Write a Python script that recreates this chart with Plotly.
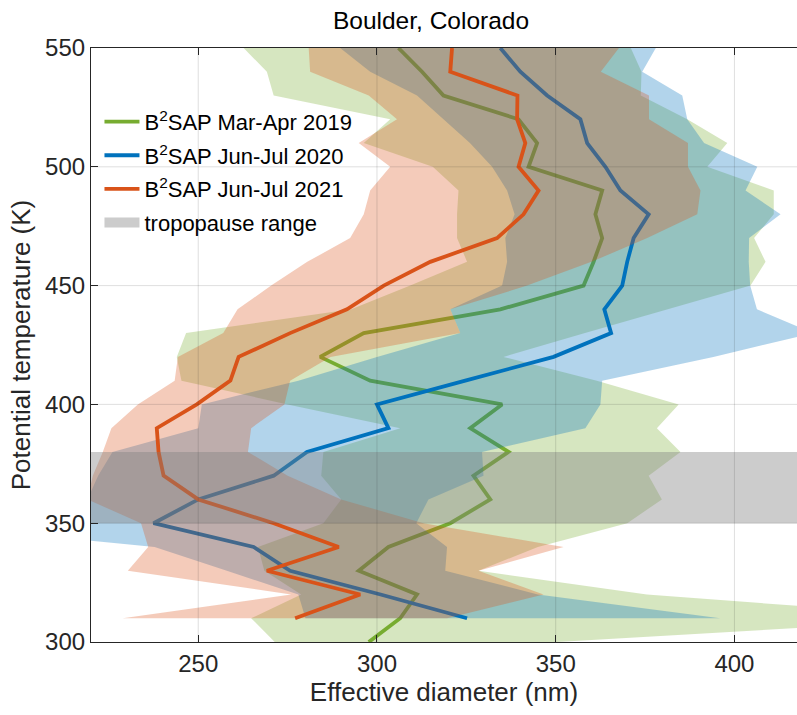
import plotly.graph_objects as go

# Potential temperature levels (K)
theta = [310, 320, 330, 340, 350, 360, 370, 380, 390, 400, 410, 420, 430,
         440, 450, 460, 470, 480, 490, 500, 510, 520, 530, 540, 550]
theta_2019 = [300] + theta

# Median effective diameter profiles (nm)
d_2019 = [297.7, 306.5, 311.2, 294.9, 303.2, 320.5, 331.7, 327.0, 336.8, 326.1,
          335.0, 298.1, 284.1, 296.3, 334.5, 357.8, 360.6, 363.0, 361.1, 363.0,
          342.4, 344.8, 339.6, 318.6, 312.6, 306.0]
d_2020 = [325.2, 301.0, 275.7, 265.5, 237.5, 250.0, 271.1, 280.4, 303.2, 300.0,
          324.7, 349.4, 365.5, 363.6, 368.6, 370.0, 371.8, 376.0, 368.1, 363.9,
          358.8, 356.9, 347.6, 340.1, 334.5]
d_2021 = [277.1, 295.3, 269.2, 289.3, 271.1, 250.0, 240.3, 238.9, 238.4, 249.6,
          259.0, 261.3, 275.7, 291.6, 301.9, 314.9, 333.6, 341.0, 345.2, 339.6,
          341.5, 339.2, 339.3, 320.5, 321.0]

# Variability envelopes (lower / upper, nm)
lo_2019 = [271.4, 264.8, 278.8, 268.5, 266.7, 285.0, 290.0, 284.4, 285.0, 306.5,
           275.0, 245.3, 244.0, 246.6, 292.8, 309.3, 325.2, 322.4, 322.4, 322.8,
           315.6, 296.3, 303.7, 271.1, 269.2, 262.7]
hi_2019 = [350.4, 464.0, 375.5, 328.4, 345.0, 370.0, 379.7, 376.0, 384.9, 378.3,
           384.4, 361.5, 335.4, 358.2, 381.0, 404.5, 408.7, 405.5, 411.0, 411.0,
           392.4, 398.0, 386.8, 373.8, 374.0, 371.0]
lo_2020 = [280.0, 278.0, 258.0, 237.8, 170.0, 219.0, 222.0, 226.0, 250.0, 251.0,
           278.0, 300.0, 323.3, 320.5, 335.0, 336.4, 335.9, 338.5, 336.4, 332.2,
           326.0, 318.6, 311.2, 298.1, 289.7]
hi_2020 = [396.0, 345.0, 319.1, 319.6, 311.0, 314.4, 329.8, 329.4, 358.3, 362.5,
           363.0, 394.1, 422.0, 406.3, 404.4, 404.0, 404.1, 412.9, 403.1, 406.4,
           391.5, 386.8, 385.4, 374.2, 378.0]
lo_2021 = [228.9, 276.0, 230.3, 236.0, 234.0, 219.0, 220.5, 223.3, 225.7, 233.1,
           243.4, 244.3, 257.0, 261.0, 270.4, 280.5, 292.5, 296.3, 298.1, 303.7,
           294.9, 305.6, 297.7, 281.3, 280.9]
hi_2021 = [319.6, 346.6, 328.4, 352.2, 313.0, 290.0, 275.0, 263.9, 264.8, 274.1,
           275.7, 287.0, 323.3, 320.5, 342.0, 360.0, 375.6, 389.6, 390.5, 387.0,
           387.0, 376.1, 376.1, 362.6, 367.7]

# Tropopause potential temperature range (K)
tropopause = [350, 380]

x_range = [220, 417.5]
y_range = [300, 550]
x_ticks = [250, 300, 350, 400]
y_ticks = [300, 350, 400, 450, 500, 550]

series = [
    ("B<sup>2</sup>SAP Mar-Apr 2019", theta_2019, d_2019, lo_2019, hi_2019, (119, 172, 48)),
    ("B<sup>2</sup>SAP Jun-Jul 2020", theta, d_2020, lo_2020, hi_2020, (0, 114, 189)),
    ("B<sup>2</sup>SAP Jun-Jul 2021", theta, d_2021, lo_2021, hi_2021, (217, 83, 25)),
]

FONT = "Liberation Sans, Arial, Helvetica, sans-serif"
AXIS_COLOR = "#262626"
TROPO_FILL = "rgba(128,128,128,0.4)"

fig = go.Figure()

for i, (name, th, d, lo, hi, rgb) in enumerate(series):
    r, g, b = rgb
    # shaded envelope first, then the median profile on top of it
    fig.add_trace(go.Scatter(
        x=lo + hi[::-1], y=th + th[::-1],
        fill="toself", fillcolor=f"rgba({r},{g},{b},0.3)",
        line=dict(width=0), mode="lines",
        hoverinfo="skip", showlegend=False,
    ))
    fig.add_trace(go.Scatter(
        x=d, y=th, mode="lines", name=name,
        line=dict(color=f"rgb({r},{g},{b})", width=3.8),
        legendgroup=f"g{i}",
    ))

# tropopause band, drawn over everything else
fig.add_trace(go.Scatter(
    x=[x_range[0], x_range[1], x_range[1], x_range[0]],
    y=[tropopause[0], tropopause[0], tropopause[1], tropopause[1]],
    fill="toself", fillcolor=TROPO_FILL,
    line=dict(width=0), mode="lines",
    hoverinfo="skip", showlegend=False,
))
# legend swatch for the tropopause band
fig.add_trace(go.Scatter(
    x=[None], y=[None], mode="lines", name="tropopause range",
    line=dict(color=TROPO_FILL, width=20), legendgroup="g3",
    hoverinfo="skip",
))

# grid drawn over the shaded areas
grid = dict(color="rgba(38,38,38,0.15)", width=1)
shapes = []
for xv in x_ticks:
    shapes.append(dict(type="line", xref="x", yref="paper", x0=xv, x1=xv,
                       y0=0, y1=1, line=grid, layer="above"))
for yv in y_ticks[1:-1]:
    shapes.append(dict(type="line", xref="paper", yref="y", x0=0, x1=1,
                       y0=yv, y1=yv, line=grid, layer="above"))

fig.update_layout(
    width=797, height=715,
    margin=dict(l=91, r=0, t=48, b=73),
    paper_bgcolor="white", plot_bgcolor="white",
    font=dict(family=FONT, color=AXIS_COLOR),
    title=dict(text="Boulder, Colorado", x=431 / 797, xanchor="center",
               y=1 - 20 / 715, yanchor="middle", yref="container",
               font=dict(size=24.5, color="black", family=FONT)),
    shapes=shapes,
    showlegend=True,
    legend=dict(x=0.012, y=0.911, xanchor="left", yanchor="top",
                bgcolor="rgba(0,0,0,0)", borderwidth=0,
                font=dict(size=22, color="black", family=FONT),
                tracegroupgap=2, itemwidth=35),
)

fig.update_xaxes(
    range=x_range, tickvals=x_ticks, ticks="inside", ticklen=7,
    tickcolor=AXIS_COLOR, tickwidth=1.2, showline=True, linecolor=AXIS_COLOR,
    linewidth=1.2, mirror="ticks", showgrid=False, zeroline=False,
    tickfont=dict(size=24, color=AXIS_COLOR),
    title=dict(text="Effective diameter (nm)", font=dict(size=26, color=AXIS_COLOR),
               standoff=6),
)
fig.update_yaxes(
    range=y_range, tickvals=y_ticks, ticks="inside", ticklen=7,
    tickcolor=AXIS_COLOR, tickwidth=1.2, showline=True, linecolor=AXIS_COLOR,
    linewidth=1.2, mirror=False, showgrid=False, zeroline=False,
    tickfont=dict(size=24, color=AXIS_COLOR),
    title=dict(text="Potential temperature (K)", font=dict(size=26, color=AXIS_COLOR),
               standoff=6),
)

fig.write_html("out.html")
